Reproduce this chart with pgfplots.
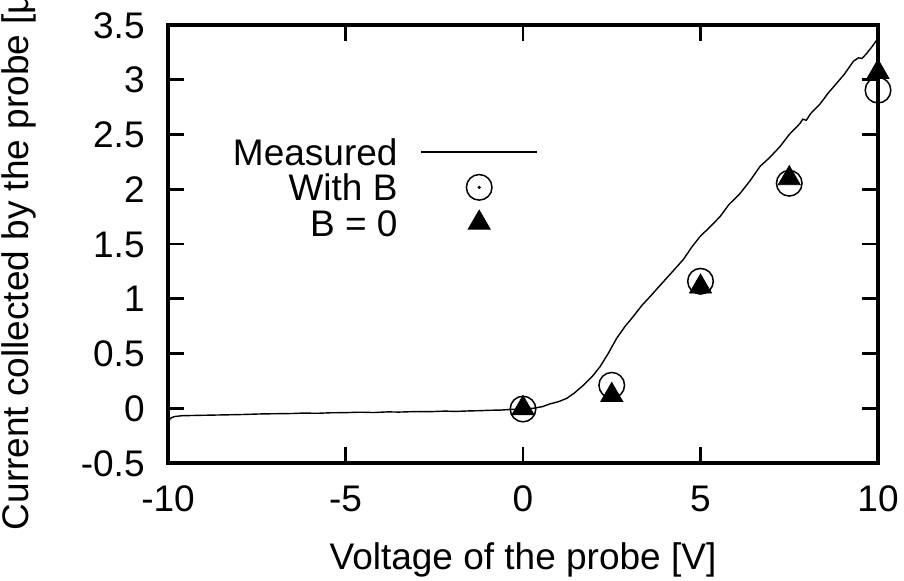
\documentclass[border=0pt]{standalone}
\usepackage{fontspec}
\setmainfont{Liberation Sans}
\usepackage{pgfplots}
\pgfplotsset{compat=1.18}

\begin{document}
\begin{tikzpicture}[font=\fontsize{18.5}{22}\selectfont]
\begin{axis}[
    name=ax,
    at={(0,0)}, anchor=south west,
    scale only axis,
    width=355pt, height=219pt,
    xmin=-10, xmax=10,
    ymin=-0.5, ymax=3.5,
    xtick={-10,-5,0,5,10},
    ytick={-0.5,0,0.5,1,1.5,2,2.5,3,3.5},
    yticklabels={-0.5,0,0.5,1,1.5,2,2.5,3,3.5},
    xticklabels={-10,-5,0,5,10},
    tick align=inside,
    tick pos=both,
    major tick length=8pt,
    axis line style={line width=1.6pt},
    every tick/.style={black, line width=1.3pt},
    xticklabel style={anchor=base, inner sep=0pt, yshift=-24pt},
    yticklabel style={anchor=base east, inner sep=0pt, xshift=-11.5pt, yshift=-6.6pt},
    xlabel={Voltage of the probe [V]},
    ylabel={Current collected by the probe [μA]},
    xlabel style={at={(axis description cs:0.5,-0.242)}, anchor=base},
    ylabel style={at={(axis description cs:-0.196,0.5)}, anchor=base},
    clip=false,
    legend plot pos=right,
    legend cell align=right,
    legend style={draw=none, fill=none, inner sep=0pt, outer sep=0pt,
        at={(rel axis cs:0.0915,0.751)}, anchor=north west,
        row sep=0pt, column sep=11.5pt,
        nodes={inner sep=0pt, text height=15.5pt, text depth=2.25pt}},
]
% measured I-V curve
\addplot[black, line width=0.7pt,
    legend image code/.code={\draw[black, line width=0.7pt] (0pt,0pt) -- (58pt,0pt);}]
  coordinates {
    (-10.00,-0.170) (-9.98,-0.130) (-9.95,-0.100) (-9.90,-0.085) (-9.80,-0.075)
    (-9.60,-0.068) (-9.00,-0.064) (-8.50,-0.061) (-8.00,-0.058) (-7.40,-0.052)
    (-7.00,-0.050) (-6.50,-0.048) (-6.20,-0.044) (-5.80,-0.046) (-5.40,-0.041)
    (-5.00,-0.040) (-4.60,-0.036) (-4.20,-0.039) (-3.80,-0.033) (-3.50,-0.035)
    (-3.00,-0.030) (-2.60,-0.031) (-2.20,-0.026) (-1.90,-0.029) (-1.50,-0.024)
    (-1.20,-0.022) (-0.90,-0.018) (-0.65,-0.017) (-0.30,-0.010) (0.00,-0.006)
    (0.29,0.000) (0.55,0.015) (0.76,0.040) (1.00,0.060) (1.23,0.090)
    (1.45,0.140) (1.70,0.210) (1.95,0.290) (2.17,0.380) (2.40,0.500)
    (2.64,0.640) (2.88,0.750) (3.11,0.840) (3.35,0.940) (3.58,1.020)
    (3.80,1.100) (4.05,1.190) (4.30,1.280) (4.52,1.360) (4.75,1.470)
    (4.99,1.570) (5.25,1.650) (5.55,1.750) (5.80,1.860) (6.11,1.960)
    (6.40,2.080) (6.68,2.210) (6.95,2.290) (7.24,2.390) (7.50,2.500)
    (7.80,2.600) (7.88,2.640) (7.98,2.630) (8.10,2.690) (8.37,2.780)
    (8.60,2.880) (8.84,2.970) (9.05,3.050) (9.31,3.170) (9.45,3.200)
    (9.55,3.195) (9.68,3.240) (9.85,3.310) (10.00,3.380)
  };
\addlegendentry{Measured}
% with magnetic field
\addplot[only marks, mark=o, mark size=6.4pt, mark options={black, line width=0.75pt},
    legend image code/.code={
        \draw[black, line width=0.75pt] plot[mark=o, mark size=6.4pt] coordinates {(29pt,0pt)};
        \fill[black] (29pt,0pt) circle (0.6pt);}]
  coordinates {(0,-0.007) (2.5,0.21) (5,1.16) (7.5,2.055) (10,2.905)};
\addlegendentry{With B}
% without magnetic field
\addplot[only marks, mark=triangle*, mark size=6.35pt, mark options={black, fill=black},
    legend image code/.code={
        \fill[black] plot[mark=triangle*, mark size=6.35pt] coordinates {(29pt,0pt)};}]
  coordinates {(0,0.0) (2.5,0.12) (5,1.11) (7.5,2.10) (10,3.07)};
\addlegendentry{B = 0}
\end{axis}
\pgfresetboundingbox
\path[use as bounding box] (-84pt,-58.5pt) rectangle (368pt,231.5pt);
\end{tikzpicture}
\end{document}
